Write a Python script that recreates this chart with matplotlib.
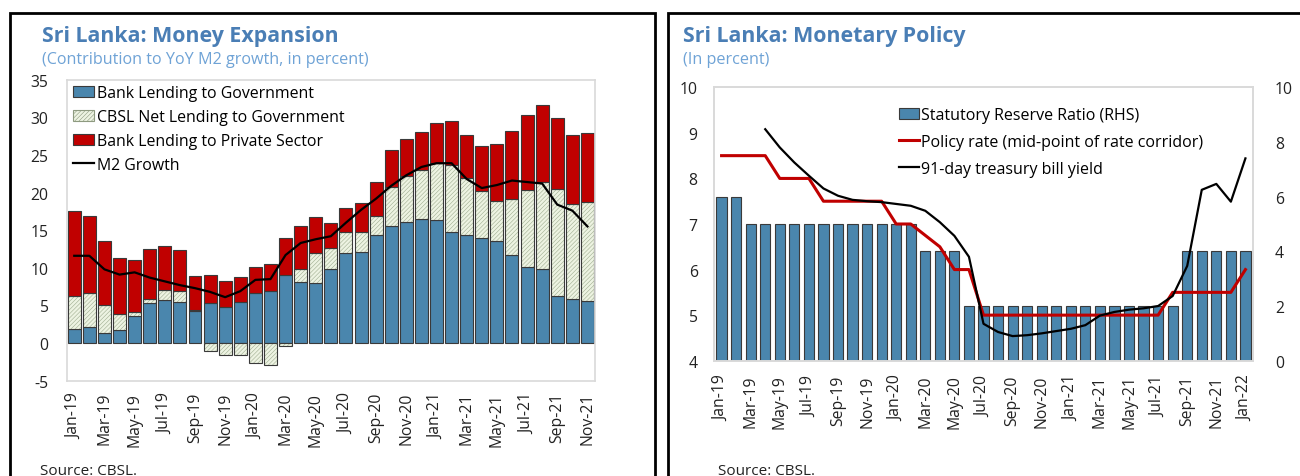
import numpy as np
import pandas as pd
import matplotlib
matplotlib.use("Agg")
import matplotlib.pyplot as plt
from matplotlib.patches import Patch, Rectangle
from matplotlib.lines import Line2D

plt.rcParams['font.family'] = ['Open Sans', 'DejaVu Sans']
plt.rcParams['hatch.linewidth'] = 0.4
plt.rcParams['axes.unicode_minus'] = False

# ---- left chart: money expansion (contributions, pp) ----
months_l = pd.date_range("2019-01-01", "2021-11-01", freq="MS").strftime("%b-%y").tolist()
govt = [1.9, 2.2, 1.3, 1.8, 3.6, 5.3, 5.7, 5.4, 4.2, 5.3, 4.8, 5.4, 6.7, 6.9, 9.0, 8.1, 8.0, 9.8,
        12.0, 12.1, 14.3, 15.6, 16.1, 16.5, 16.4, 14.8, 14.3, 14.0, 13.5, 11.7, 10.1, 9.8, 6.3, 5.8, 5.6]
cbsl = [4.4, 4.4, 3.7, 2.1, 0.5, 0.5, 1.3, 1.5, 0.2, -1.0, -1.6, -1.6, -2.6, -2.9, -0.4, 1.7, 4.0, 2.9,
        2.7, 2.7, 2.6, 5.1, 6.1, 6.5, 7.5, 8.9, 7.6, 6.2, 5.4, 7.4, 10.3, 11.6, 14.2, 12.7, 13.2]
private = [11.3, 10.3, 8.6, 7.4, 6.9, 6.7, 5.9, 5.5, 4.5, 3.8, 3.4, 3.4, 3.4, 3.6, 5.0, 5.8, 4.8, 3.3,
           3.2, 3.8, 4.5, 4.9, 4.9, 5.1, 5.3, 5.8, 5.7, 6.0, 7.5, 9.1, 9.9, 10.3, 9.4, 9.1, 9.1]
m2 = [11.6, 11.6, 9.8, 9.1, 9.4, 8.7, 8.2, 7.7, 7.3, 6.8, 6.1, 6.9, 8.4, 8.5, 11.7, 13.3, 13.8, 14.2,
      16.0, 17.7, 19.2, 20.9, 22.3, 23.4, 23.9, 23.9, 21.8, 20.6, 21.0, 21.6, 21.4, 21.2, 18.4, 17.6, 15.5]

# ---- right chart: monetary policy (percent) ----
months_r = pd.date_range("2019-01-01", "2022-01-01", freq="MS").strftime("%b-%y").tolist()
srr = [6, 6, 5, 5, 5, 5, 5, 5, 5, 5, 5, 5, 5, 5, 4, 4, 4, 2, 2, 2, 2, 2, 2, 2, 2, 2, 2, 2, 2, 2, 2, 2,
       4, 4, 4, 4, 4]
policy = [8.5, 8.5, 8.5, 8.5, 8.0, 8.0, 8.0, 7.5, 7.5, 7.5, 7.5, 7.5, 7.0, 7.0, 6.75, 6.5, 6.0, 6.0,
          5.0, 5.0, 5.0, 5.0, 5.0, 5.0, 5.0, 5.0, 5.0, 5.0, 5.0, 5.0, 5.0, 5.5, 5.5, 5.5, 5.5, 5.5, 6.0]
tbill = [np.nan, np.nan, np.nan, 9.08, 8.68, 8.35, 8.06, 7.78, 7.62, 7.53, 7.50, 7.48, 7.44, 7.40,
         7.29, 7.04, 6.74, 6.28, 4.81, 4.63, 4.54, 4.56, 4.60, 4.65, 4.70, 4.78, 4.99, 5.07, 5.12,
         5.15, 5.20, 5.42, 6.08, 7.75, 7.88, 7.49, 8.44]

BLUE = "#4A86AD"
RED = "#C00000"
EDGE = "#3A3A3A"
GRID = "#D9D9D9"
TITLE = "#4A7EB5"
SUB = "#6FA3D6"
HFILL = "#EDF3E2"
HLINE = "#9FAD90"

W, H = 1300, 477
fig = plt.figure(figsize=(W / 100, H / 100), dpi=100)


def px_axes(l, t, r, b):
    return fig.add_axes([l / W, 1 - b / H, (r - l) / W, (b - t) / H])


def fx(x):
    return x / W


def fy(y):
    return 1 - y / H


# panel frames
fig.patches.append(Rectangle((fx(10), fy(490)), fx(645), (490 - 14) / H, transform=fig.transFigure,
                             fill=False, lw=2, edgecolor="black"))
fig.patches.append(Rectangle((fx(667.7), fy(490)), fx(650), (490 - 14) / H, transform=fig.transFigure,
                             fill=False, lw=2, edgecolor="black"))

# ================= left chart =================
ax = px_axes(66.7, 80.7, 595, 381.7)
x = np.arange(len(months_l))
govt_a = np.array(govt)
cbsl_a = np.array(cbsl)
priv_a = np.array(private)
bw = 0.86

ax.bar(x, govt_a, bw, color=BLUE, edgecolor=EDGE, lw=0.8, zorder=2)
hb = np.where(cbsl_a >= 0, govt_a, 0)
ax.bar(x, cbsl_a, bw, bottom=hb, color=HFILL, edgecolor=HLINE, hatch="////////", lw=0, zorder=2)
ax.bar(x, cbsl_a, bw, bottom=hb, fill=False, edgecolor=EDGE, lw=0.8, zorder=2)
rb = govt_a + np.clip(cbsl_a, 0, None)
ax.bar(x, priv_a, bw, bottom=rb, color=RED, edgecolor=EDGE, lw=0.8, zorder=2)
ax.plot(x, m2, color="black", lw=1.6, zorder=3)

ax.set_xlim(-0.5, len(x) - 0.5)
ax.set_ylim(-5, 35)
ax.set_yticks(range(-5, 36, 5))
ax.set_xticks(x[::2])
ax.set_xticklabels(months_l[::2], rotation=90)
ax.tick_params(length=0, labelsize=11.3, colors="#222222")
ax.tick_params(axis="y", pad=13)
ax.tick_params(axis="x", pad=8)
for s in ax.spines.values():
    s.set_color(GRID)
    s.set_linewidth(1.2)

hatch_handle = Patch(facecolor=HFILL, edgecolor="#8E9A80", hatch="////////", lw=0.8)
handles_l = [Patch(facecolor=BLUE, edgecolor=EDGE, lw=0.8), hatch_handle,
             Patch(facecolor=RED, edgecolor=EDGE, lw=0.8), Line2D([], [], color="black", lw=1.6)]
labels_l = ["Bank Lending to Government", "CBSL Net Lending to Government",
            "Bank Lending to Private Sector", "M2 Growth"]
fig.legend(handles_l, labels_l, loc="upper left", bbox_to_anchor=(fx(73), fy(86)), frameon=False,
           fontsize=11.4, handlelength=1.35, handleheight=0.75, handletextpad=0.15, labelspacing=0.5,
           borderpad=0, borderaxespad=0)

fig.text(fx(42), fy(42), "Sri Lanka: Money Expansion", fontsize=15.4, fontweight="bold", color=TITLE,
         va="baseline")
fig.text(fx(42), fy(64), "(Contribution to YoY M2 growth, in percent)", fontsize=11.6, color=SUB,
         va="baseline")
fig.text(fx(40), fy(464), "Source: CBSL.", fontsize=11, color="#222222", va="top")

# ================= right chart =================
axl = px_axes(714.3, 88.3, 1252.7, 361.7)
axr = axl.twinx()
xr = np.arange(len(months_r))
axr.bar(xr, srr, 0.7, color=BLUE, edgecolor=EDGE, lw=0.8)
axl.set_zorder(axr.get_zorder() + 1)
axl.patch.set_visible(False)
axl.plot(xr, policy, color=RED, lw=2.2)
axl.plot(xr, tbill, color="black", lw=1.6)

axl.set_xlim(-0.5, len(xr) - 0.5)
axl.set_ylim(4, 10)
axr.set_ylim(0, 10)
axl.set_yticks(range(4, 11))
axr.set_yticks(range(0, 11, 2))
axl.set_xticks(xr[::2])
axl.set_xticklabels(months_r[::2], rotation=90)
axl.tick_params(length=0, labelsize=11.3, colors="#222222")
axl.tick_params(axis="y", pad=12)
axl.tick_params(axis="x", pad=10)
axr.tick_params(length=0, labelsize=11.3, colors="#222222", pad=16)
for a in (axl, axr):
    for s in a.spines.values():
        s.set_color(GRID)
        s.set_linewidth(1.2)

handles_r = [Patch(facecolor=BLUE, edgecolor=EDGE, lw=0.8), Line2D([], [], color=RED, lw=2.2),
             Line2D([], [], color="black", lw=1.6)]
labels_r = ["Statutory Reserve Ratio (RHS)", "Policy rate (mid-point of rate corridor)",
            "91-day treasury bill yield"]
fig.legend(handles_r, labels_r, loc="upper left", bbox_to_anchor=(fx(899), fy(108)), frameon=False,
           fontsize=11.5, handlelength=1.25, handleheight=0.75, handletextpad=0.15, labelspacing=0.68,
           borderpad=0, borderaxespad=0)

fig.text(fx(683), fy(42), "Sri Lanka: Monetary Policy", fontsize=15.4, fontweight="bold", color=TITLE,
         va="baseline")
fig.text(fx(683), fy(64), "(In percent)", fontsize=11.6, color=SUB, va="baseline")
fig.text(fx(718), fy(464), "Source: CBSL.", fontsize=11, color="#222222", va="top")

fig.savefig("out.png", dpi=100)
